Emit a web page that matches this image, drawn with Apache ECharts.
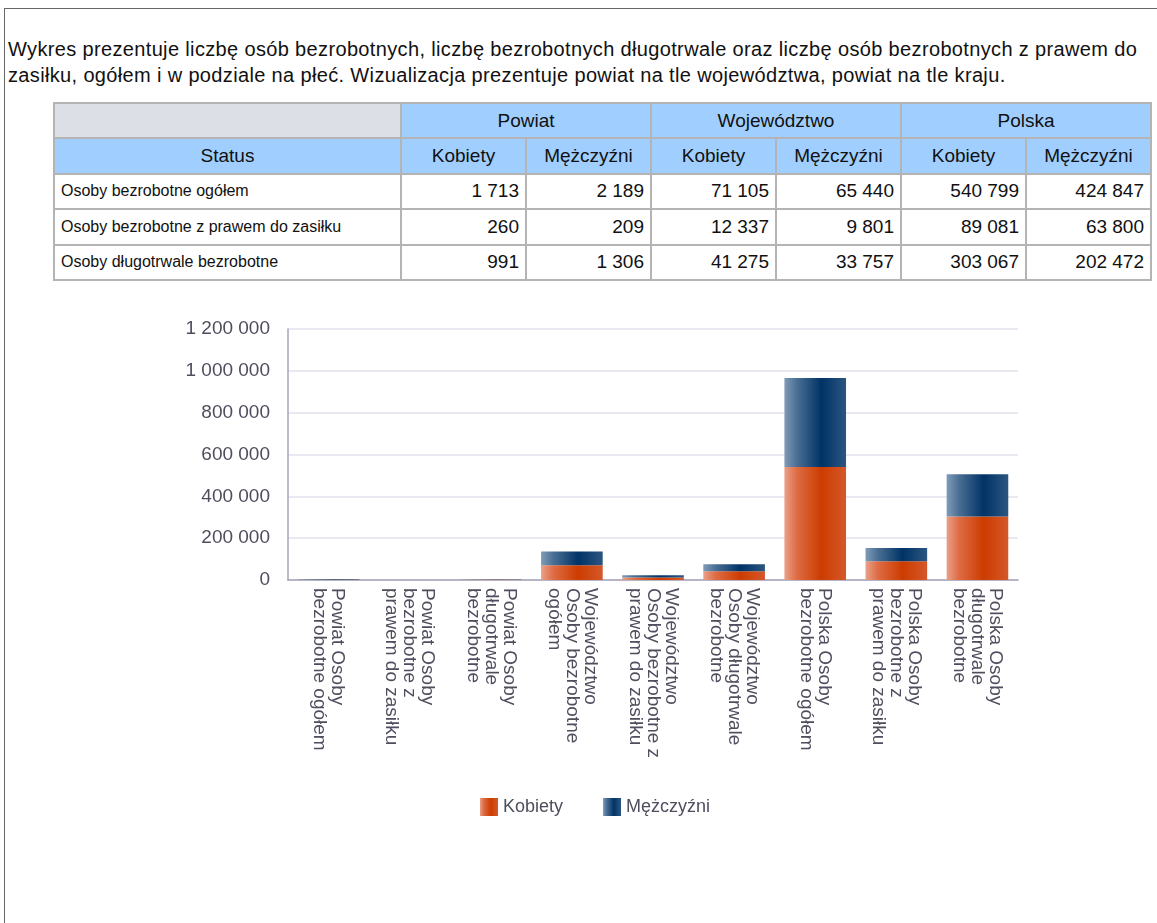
<!DOCTYPE html>
<html>
<head>
<meta charset="utf-8">
<script src="https://cdn.jsdelivr.net/npm/echarts@6/dist/echarts.min.js"></script>
<style>
  body { margin: 0; background: #fff; font-family: Arial, "Liberation Sans", sans-serif; }
  #frame { position: absolute; left: 4px; top: 8px; width: 1200px; height: 940px; border-left: 1px solid #666; border-top: 1px solid #666; }
  #desc { position: absolute; left: 8px; top: 36px; width: 1145px; margin: 0; font-size: 20px; line-height: 26px; letter-spacing: 0.35px; color: #111; }
  table { position: absolute; left: 53px; top: 102px; width: 1099px; table-layout: fixed; border-collapse: collapse; border: 2px solid #a8a8a8; }
  td, th { border: 2px solid #b4b4b4; height: 33.4px; padding: 0 6px; font-weight: normal; color: #111; }
  th { font-size: 19px; background: #a0cfff; text-align: center; }
  th.blank { background: #dcdfe5; }
  td { font-size: 16px; }
  td.num { font-size: 19px; text-align: right; }
  #chart { position: absolute; left: 0; top: 300px; width: 1157px; height: 540px; }
</style>
</head>
<body>
<div id="frame"></div>
<p id="desc">Wykres prezentuje liczbę osób bezrobotnych, liczbę bezrobotnych długotrwale oraz liczbę osób bezrobotnych z prawem do zasiłku, ogółem i w podziale na płeć. Wizualizacja prezentuje powiat na tle województwa, powiat na tle kraju.</p>
<table id="tbl"></table>
<div id="chart"></div>
<script>
var regions = ['Powiat', 'Województwo', 'Polska'];
var statuses = ['Osoby bezrobotne ogółem', 'Osoby bezrobotne z prawem do zasiłku', 'Osoby długotrwale bezrobotne'];
var genders = ['Kobiety', 'Mężczyźni'];

// rows = statuses, values per region: [kobiety, mężczyźni]
var powiatK = [1713, 260, 991];
var powiatM = [2189, 209, 1306];
var wojK = [71105, 12337, 41275];
var wojM = [65440, 9801, 33757];
var polskaK = [540799, 89081, 303067];
var polskaM = [424847, 63800, 202472];

// chart categories, as wrapped in the picture
var categories = [
  'Powiat Osoby\nbezrobotne ogółem',
  'Powiat Osoby\nbezrobotne z\nprawem do zasiłku',
  'Powiat Osoby\ndługotrwale\nbezrobotne',
  'Województwo\nOsoby bezrobotne\nogółem',
  'Województwo\nOsoby bezrobotne z\nprawem do zasiłku',
  'Województwo\nOsoby długotrwale\nbezrobotne',
  'Polska Osoby\nbezrobotne ogółem',
  'Polska Osoby\nbezrobotne z\nprawem do zasiłku',
  'Polska Osoby\ndługotrwale\nbezrobotne'
];
var kobiety = powiatK.concat(wojK, polskaK);
var mezczyzni = powiatM.concat(wojM, polskaM);

var yMax = 1200000;
var yStep = 200000;

function fmt(v) {
  return String(v).replace(/\B(?=(\d{3})+(?!\d))/g, ' ');
}

// table
var tbl = document.getElementById('tbl');
var html = '<colgroup><col style="width:347px">';
for (var c = 0; c < 6; c++) html += '<col>';
html += '</colgroup><tr><th class="blank"></th>';
regions.forEach(function (r) { html += '<th colspan="2">' + r + '</th>'; });
html += '</tr><tr><th>Status</th>';
regions.forEach(function () { genders.forEach(function (g) { html += '<th>' + g + '</th>'; }); });
html += '</tr>';
var cols = [powiatK, powiatM, wojK, wojM, polskaK, polskaM];
statuses.forEach(function (s, i) {
  html += '<tr><td>' + s + '</td>';
  cols.forEach(function (col) { html += '<td class="num">' + fmt(col[i]) + '</td>'; });
  html += '</tr>';
});
tbl.innerHTML = html;

// chart
var textColor = '#4e4e5e';
var orange = new echarts.graphic.LinearGradient(0, 0, 1, 0, [
  { offset: 0, color: '#eaa089' },
  { offset: 0.2, color: '#de6c44' },
  { offset: 0.6, color: '#cc3c00' },
  { offset: 1, color: '#d5582a' }
]);
var blue = new echarts.graphic.LinearGradient(0, 0, 1, 0, [
  { offset: 0, color: '#809cb8' },
  { offset: 0.2, color: '#4a6f94' },
  { offset: 0.6, color: '#003366' },
  { offset: 1, color: '#2c5681' }
]);

var myChart = echarts.init(document.getElementById('chart'));
var option = {
  animation: false,
  textStyle: { fontFamily: 'Arial, "Liberation Sans", sans-serif' },
  grid: { left: 288, right: 139, top: 29, bottom: 260 },
  legend: {
    data: genders,
    bottom: 19,
    left: 475,
    icon: 'rect',
    itemWidth: 18,
    itemHeight: 18,
    itemGap: 40,
    textStyle: { fontSize: 18, color: textColor }
  },
  xAxis: {
    type: 'category',
    data: categories,
    axisLine: { lineStyle: { color: '#a4a4b8', width: 1.5 } },
    axisTick: { show: false },
    axisLabel: {
      rotate: -90,
      interval: 0,
      margin: 8,
      fontSize: 19,
      lineHeight: 18,
      color: textColor
    }
  },
  yAxis: {
    type: 'value',
    min: 0,
    max: yMax,
    interval: yStep,
    axisLine: { show: true, lineStyle: { color: '#a4a4b8', width: 1.5 } },
    axisTick: { show: false },
    splitLine: { lineStyle: { color: '#e2e2ec', width: 1.5 } },
    axisLabel: { fontSize: 19, color: textColor, margin: 18, formatter: fmt }
  },
  series: [
    {
      name: genders[0],
      type: 'bar',
      stack: 'total',
      barWidth: '76%',
      data: kobiety,
      itemStyle: { color: orange }
    },
    {
      name: genders[1],
      type: 'bar',
      stack: 'total',
      barWidth: '76%',
      data: mezczyzni,
      itemStyle: { color: blue }
    }
  ]
};
myChart.setOption(option);
</script>
</body>
</html>
